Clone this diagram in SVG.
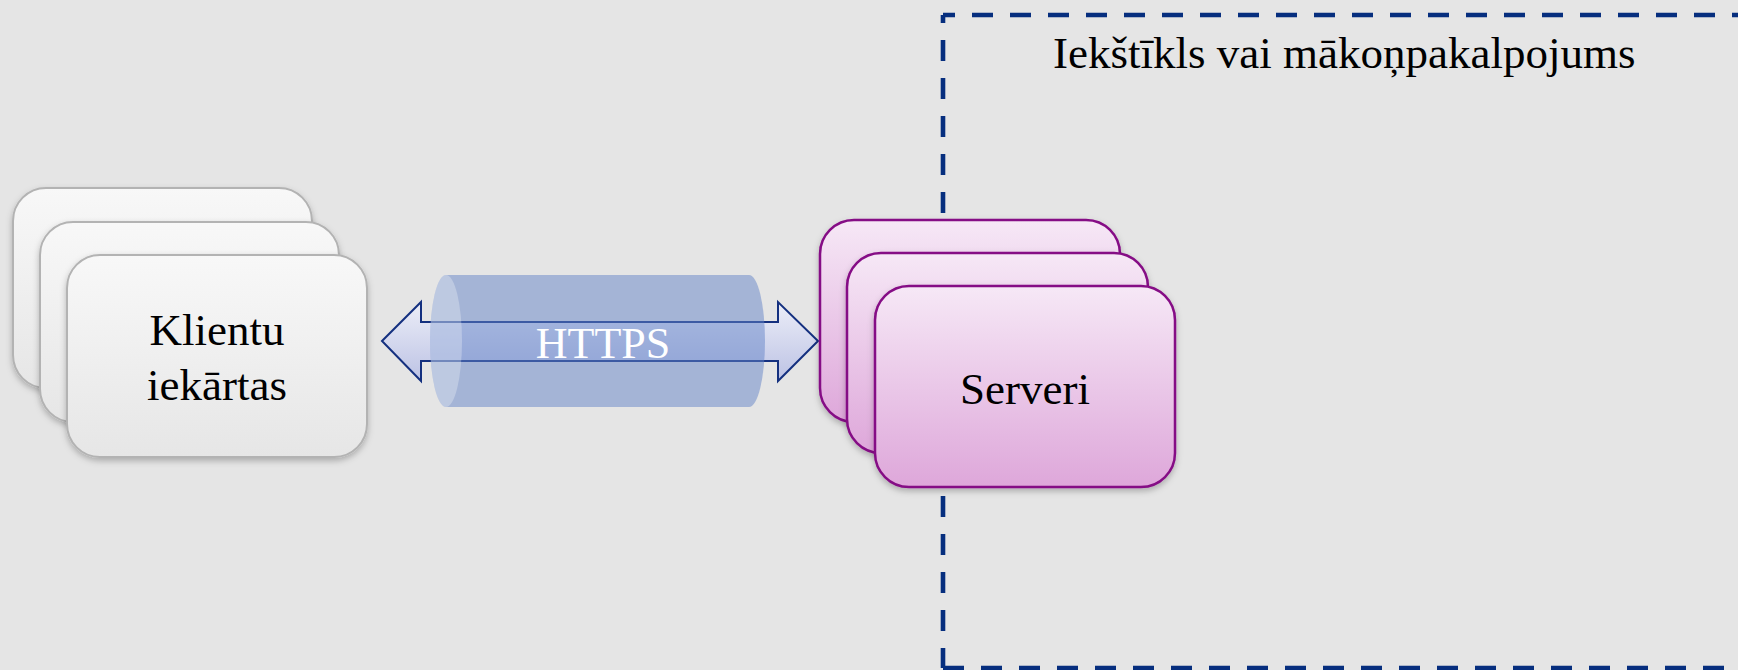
<svg xmlns="http://www.w3.org/2000/svg" width="1738" height="670" viewBox="0 0 1738 670">
<style>
.lbl{font-family:"Liberation Serif","Times New Roman",serif;font-size:45px;fill:#000}
.client{fill:url(#gClient);stroke:#b3b3b3;stroke-width:2;filter:url(#sh)}
.server{fill:url(#gServer);stroke:#850a85;stroke-width:2.5;filter:url(#sh)}
.dash{stroke:#062e7e;stroke-width:4.6;fill:none;stroke-dasharray:21 17}
</style>
<defs>
<linearGradient id="gClient" x1="0" y1="0" x2="0" y2="1">
<stop offset="0" stop-color="#f8f8f8"/>
<stop offset="1" stop-color="#e6e6e6"/>
</linearGradient>
<linearGradient id="gServer" x1="0" y1="0" x2="0" y2="1">
<stop offset="0" stop-color="#f6e8f6"/>
<stop offset="1" stop-color="#dea7da"/>
</linearGradient>
<linearGradient id="gArrow" x1="0" y1="0" x2="0" y2="1">
<stop offset="0" stop-color="#eceef8"/>
<stop offset="1" stop-color="#bcc2e4"/>
</linearGradient>
<filter id="sh" x="-10%" y="-10%" width="125%" height="130%">
<feDropShadow dx="0" dy="3" stdDeviation="3" flood-color="#000" flood-opacity="0.25"/>
</filter>
</defs>
<rect width="1738" height="670" fill="#e5e5e5"/>

<g id="boundary">
<line class="dash" x1="943" y1="15" x2="1760" y2="15" stroke-dashoffset="9"/>
<line class="dash" x1="943" y1="15" x2="943" y2="668" stroke-dashoffset="13"/>
<line class="dash" x1="943" y1="668" x2="1760" y2="668"/>
<text class="lbl" x="1053" y="68">Iekštīkls vai mākoņpakalpojums</text>
</g>

<g id="clients">
<rect class="client" x="13" y="188" width="299" height="200" rx="33"/>
<rect class="client" x="40" y="222" width="299" height="200" rx="33"/>
<rect class="client" x="67" y="255" width="300" height="202" rx="33"/>
<text class="lbl" x="217" y="345" text-anchor="middle">Klientu</text>
<text class="lbl" x="217" y="400" text-anchor="middle">iekārtas</text>
</g>

<g id="connectors">
<path d="M382,341 L421,302 L421,322 L778,322 L778,302 L818,341 L778,381 L778,361 L421,361 L421,381 Z" fill="url(#gArrow)" stroke="#14307f" stroke-width="2" stroke-linejoin="miter"/>
<path d="M446,275 H749 A16,66 0 0 1 749,407 H446 A16,66 0 0 1 446,275 Z" fill="#6384c7" fill-opacity="0.5"/>
<ellipse cx="446" cy="341" rx="16" ry="66" fill="#ffffff" fill-opacity="0.28"/>
<text x="603" y="358" text-anchor="middle" font-family="Liberation Serif, Times New Roman, serif" font-size="44" fill="#ffffff">HTTPS</text>
</g>

<g id="servers">
<rect class="server" x="820" y="220" width="300" height="202" rx="34"/>
<rect class="server" x="847" y="253" width="301" height="200" rx="34"/>
<rect class="server" x="875" y="286" width="300" height="201" rx="34"/>
<text class="lbl" x="1025" y="404" text-anchor="middle">Serveri</text>
</g>
</svg>
